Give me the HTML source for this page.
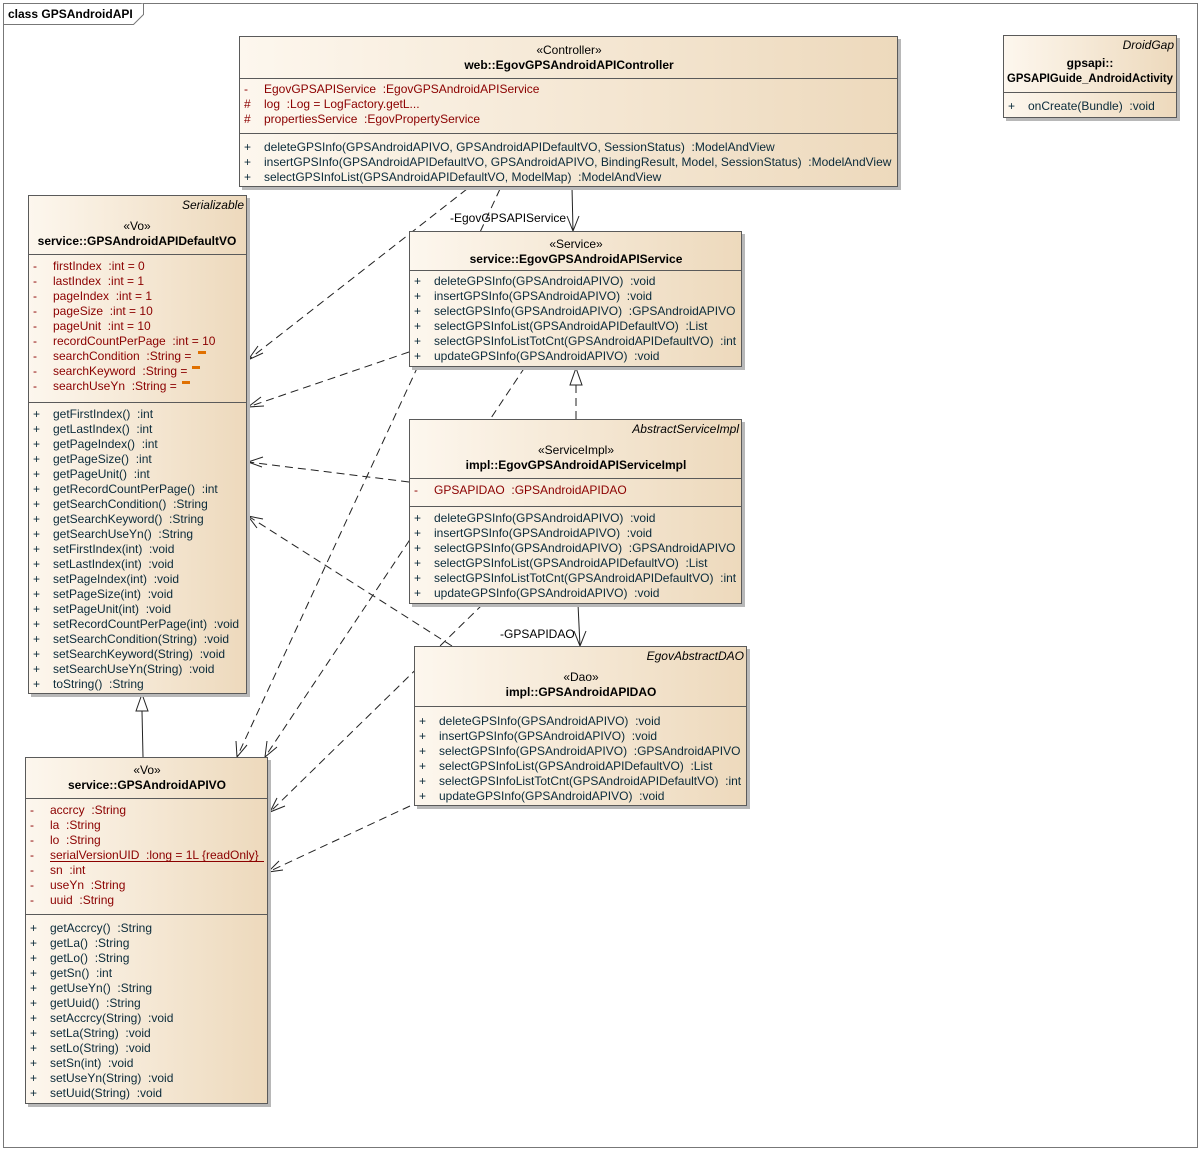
<!DOCTYPE html>
<html><head><meta charset="utf-8"><style>
html,body{margin:0;padding:0;background:#fff;}
svg{display:block;font-family:"Liberation Sans",Arial,sans-serif;font-size:12px;}
text{white-space:pre}
.a{fill:#8b0000}.m{fill:#0a2a3a}.h{fill:#000}
.b{font-weight:bold}.i{font-style:italic}
.box{fill:url(#g);stroke:#5a5a5a;stroke-width:1}
.sh{fill:#b8b8b8}
.sep{stroke:#5a5a5a;stroke-width:1}
.d{stroke:#222;stroke-dasharray:8,5;fill:none}
.s{stroke:#222;fill:none}
</style></head><body>
<svg width="1204" height="1152" viewBox="0 0 1204 1152" xml:space="preserve">
<defs>
<linearGradient id="g" x1="0" y1="0" x2="1" y2="0">
<stop offset="0" stop-color="#fdf7ee"/><stop offset="1" stop-color="#edd9bc"/>
</linearGradient>
</defs>
<rect x="3.5" y="3.5" width="1194" height="1144" fill="#fff" stroke="#777"/>
<path d="M3.5 24.5 H133.5 L143.5 14.5 V3.5" fill="#fff" stroke="#777"/>
<text x="8" y="18" class="b h">class GPSAndroidAPI</text>

<path class="d" d="M467 189 L248 360"/><path class="s" d="M258 346 L248 360 L263 353"/>
<path class="d" d="M500 189 L237 757"/><path class="s" d="M236 741 L237 757 L247 745"/>
<path class="d" d="M409 352 L248 407"/><path class="s" d="M261 397 L248 407 L264 406"/>
<path class="d" d="M525 367 L265 757"/><path class="s" d="M267 741 L265 757 L277 747"/>
<path class="d" d="M409 482 L248 462"/><path class="s" d="M263 457 L248 462 L262 467"/>
<path class="d" d="M483 604 L270 812"/><path class="s" d="M277 798 L270 812 L285 806"/>
<path class="d" d="M452 646 L248 516"/><path class="s" d="M257 528 L248 516 L263 519"/>
<path class="d" d="M410 806 L268 872"/><path class="s" d="M279 861 L268 872 L283 870"/>
<path class="d" d="M576 419 L576 385"/><path d="M570 385 L576 368 L582 385 Z" fill="#fff" stroke="#222"/>
<path class="s" d="M572 187 L573 231"/><path class="s" d="M567 216 L573 231 L579 216"/>
<text x="450" y="222" class="h">-EgovGPSAPIService</text>
<path class="s" d="M578 604 L580 646"/><path class="s" d="M574 631 L580 646 L586 631"/>
<text x="500" y="638" class="h">-GPSAPIDAO</text>
<path class="s" d="M143 757 L142 711"/><path d="M136 711 L142 694 L148 711 Z" fill="#fff" stroke="#222"/>

<rect class="sh" x="242" y="39" width="659" height="151"/>
<rect class="box" x="239.5" y="36.5" width="658" height="150"/>
<text x="569" y="54" text-anchor="middle" class="h">«Controller»</text>
<text x="569" y="69" text-anchor="middle" class="h b">web::EgovGPSAndroidAPIController</text>
<line class="sep" x1="239.5" y1="78.5" x2="897.5" y2="78.5"/>
<text class="a"><tspan x="244" y="93">-</tspan><tspan x="264" y="93">EgovGPSAPIService  :EgovGPSAndroidAPIService</tspan><tspan x="244" y="108">#</tspan><tspan x="264" y="108">log  :Log = LogFactory.getL...</tspan><tspan x="244" y="123">#</tspan><tspan x="264" y="123">propertiesService  :EgovPropertyService</tspan></text>
<line class="sep" x1="239.5" y1="133.5" x2="897.5" y2="133.5"/>
<text class="m"><tspan x="244" y="151">+</tspan><tspan x="264" y="151">deleteGPSInfo(GPSAndroidAPIVO, GPSAndroidAPIDefaultVO, SessionStatus)  :ModelAndView</tspan><tspan x="244" y="166">+</tspan><tspan x="264" y="166">insertGPSInfo(GPSAndroidAPIDefaultVO, GPSAndroidAPIVO, BindingResult, Model, SessionStatus)  :ModelAndView</tspan><tspan x="244" y="181">+</tspan><tspan x="264" y="181">selectGPSInfoList(GPSAndroidAPIDefaultVO, ModelMap)  :ModelAndView</tspan></text>

<rect class="sh" x="1006" y="38" width="174" height="83"/>
<rect class="box" x="1003.5" y="35.5" width="173" height="82"/>
<text x="1174" y="49" text-anchor="end" class="h i">DroidGap</text>
<text x="1090" y="67" text-anchor="middle" class="h b">gpsapi::</text>
<text x="1090" y="82" text-anchor="middle" class="h b" textLength="166" lengthAdjust="spacingAndGlyphs">GPSAPIGuide_AndroidActivity</text>
<line class="sep" x1="1003.5" y1="92.5" x2="1176.5" y2="92.5"/>
<text class="m"><tspan x="1008" y="110">+</tspan><tspan x="1028" y="110">onCreate(Bundle)  :void</tspan></text>

<rect class="sh" x="31" y="198" width="219" height="499"/>
<rect class="box" x="28.5" y="195.5" width="218" height="498"/>
<text x="244" y="209" text-anchor="end" class="h i">Serializable</text>
<text x="137" y="230" text-anchor="middle" class="h">«Vo»</text>
<text x="137" y="245" text-anchor="middle" class="h b">service::GPSAndroidAPIDefaultVO</text>
<line class="sep" x1="28.5" y1="254.5" x2="246.5" y2="254.5"/>
<text class="a"><tspan x="33" y="270">-</tspan><tspan x="53" y="270">firstIndex  :int = 0</tspan><tspan x="33" y="285">-</tspan><tspan x="53" y="285">lastIndex  :int = 1</tspan><tspan x="33" y="300">-</tspan><tspan x="53" y="300">pageIndex  :int = 1</tspan><tspan x="33" y="315">-</tspan><tspan x="53" y="315">pageSize  :int = 10</tspan><tspan x="33" y="330">-</tspan><tspan x="53" y="330">pageUnit  :int = 10</tspan><tspan x="33" y="345">-</tspan><tspan x="53" y="345">recordCountPerPage  :int = 10</tspan><tspan x="33" y="360">-</tspan><tspan x="53" y="360">searchCondition  :String =</tspan><tspan x="33" y="375">-</tspan><tspan x="53" y="375">searchKeyword  :String =</tspan><tspan x="33" y="390">-</tspan><tspan x="53" y="390">searchUseYn  :String =</tspan></text>
<rect x="198" y="351" width="8" height="3" fill="#e07000"/>
<rect x="192" y="366" width="8" height="3" fill="#e07000"/>
<rect x="182" y="381" width="8" height="3" fill="#e07000"/>
<line class="sep" x1="28.5" y1="402.5" x2="246.5" y2="402.5"/>
<text class="m"><tspan x="33" y="418">+</tspan><tspan x="53" y="418">getFirstIndex()  :int</tspan><tspan x="33" y="433">+</tspan><tspan x="53" y="433">getLastIndex()  :int</tspan><tspan x="33" y="448">+</tspan><tspan x="53" y="448">getPageIndex()  :int</tspan><tspan x="33" y="463">+</tspan><tspan x="53" y="463">getPageSize()  :int</tspan><tspan x="33" y="478">+</tspan><tspan x="53" y="478">getPageUnit()  :int</tspan><tspan x="33" y="493">+</tspan><tspan x="53" y="493">getRecordCountPerPage()  :int</tspan><tspan x="33" y="508">+</tspan><tspan x="53" y="508">getSearchCondition()  :String</tspan><tspan x="33" y="523">+</tspan><tspan x="53" y="523">getSearchKeyword()  :String</tspan><tspan x="33" y="538">+</tspan><tspan x="53" y="538">getSearchUseYn()  :String</tspan><tspan x="33" y="553">+</tspan><tspan x="53" y="553">setFirstIndex(int)  :void</tspan><tspan x="33" y="568">+</tspan><tspan x="53" y="568">setLastIndex(int)  :void</tspan><tspan x="33" y="583">+</tspan><tspan x="53" y="583">setPageIndex(int)  :void</tspan><tspan x="33" y="598">+</tspan><tspan x="53" y="598">setPageSize(int)  :void</tspan><tspan x="33" y="613">+</tspan><tspan x="53" y="613">setPageUnit(int)  :void</tspan><tspan x="33" y="628">+</tspan><tspan x="53" y="628">setRecordCountPerPage(int)  :void</tspan><tspan x="33" y="643">+</tspan><tspan x="53" y="643">setSearchCondition(String)  :void</tspan><tspan x="33" y="658">+</tspan><tspan x="53" y="658">setSearchKeyword(String)  :void</tspan><tspan x="33" y="673">+</tspan><tspan x="53" y="673">setSearchUseYn(String)  :void</tspan><tspan x="33" y="688">+</tspan><tspan x="53" y="688">toString()  :String</tspan></text>

<rect class="sh" x="412" y="234" width="333" height="136"/>
<rect class="box" x="409.5" y="231.5" width="332" height="135"/>
<text x="576" y="248" text-anchor="middle" class="h">«Service»</text>
<text x="576" y="263" text-anchor="middle" class="h b">service::EgovGPSAndroidAPIService</text>
<line class="sep" x1="409.5" y1="270.5" x2="741.5" y2="270.5"/>
<text class="m"><tspan x="414" y="285">+</tspan><tspan x="434" y="285">deleteGPSInfo(GPSAndroidAPIVO)  :void</tspan><tspan x="414" y="300">+</tspan><tspan x="434" y="300">insertGPSInfo(GPSAndroidAPIVO)  :void</tspan><tspan x="414" y="315">+</tspan><tspan x="434" y="315">selectGPSInfo(GPSAndroidAPIVO)  :GPSAndroidAPIVO</tspan><tspan x="414" y="330">+</tspan><tspan x="434" y="330">selectGPSInfoList(GPSAndroidAPIDefaultVO)  :List</tspan><tspan x="414" y="345">+</tspan><tspan x="434" y="345">selectGPSInfoListTotCnt(GPSAndroidAPIDefaultVO)  :int</tspan><tspan x="414" y="360">+</tspan><tspan x="434" y="360">updateGPSInfo(GPSAndroidAPIVO)  :void</tspan></text>

<rect class="sh" x="412" y="422" width="333" height="185"/>
<rect class="box" x="409.5" y="419.5" width="332" height="184"/>
<text x="739" y="433" text-anchor="end" class="h i">AbstractServiceImpl</text>
<text x="576" y="454" text-anchor="middle" class="h">«ServiceImpl»</text>
<text x="576" y="469" text-anchor="middle" class="h b">impl::EgovGPSAndroidAPIServiceImpl</text>
<line class="sep" x1="409.5" y1="478.5" x2="741.5" y2="478.5"/>
<text class="a"><tspan x="414" y="494">-</tspan><tspan x="434" y="494">GPSAPIDAO  :GPSAndroidAPIDAO</tspan></text>
<line class="sep" x1="409.5" y1="506.5" x2="741.5" y2="506.5"/>
<text class="m"><tspan x="414" y="522">+</tspan><tspan x="434" y="522">deleteGPSInfo(GPSAndroidAPIVO)  :void</tspan><tspan x="414" y="537">+</tspan><tspan x="434" y="537">insertGPSInfo(GPSAndroidAPIVO)  :void</tspan><tspan x="414" y="552">+</tspan><tspan x="434" y="552">selectGPSInfo(GPSAndroidAPIVO)  :GPSAndroidAPIVO</tspan><tspan x="414" y="567">+</tspan><tspan x="434" y="567">selectGPSInfoList(GPSAndroidAPIDefaultVO)  :List</tspan><tspan x="414" y="582">+</tspan><tspan x="434" y="582">selectGPSInfoListTotCnt(GPSAndroidAPIDefaultVO)  :int</tspan><tspan x="414" y="597">+</tspan><tspan x="434" y="597">updateGPSInfo(GPSAndroidAPIVO)  :void</tspan></text>

<rect class="sh" x="417" y="649" width="333" height="160"/>
<rect class="box" x="414.5" y="646.5" width="332" height="159"/>
<text x="744" y="660" text-anchor="end" class="h i">EgovAbstractDAO</text>
<text x="581" y="681" text-anchor="middle" class="h">«Dao»</text>
<text x="581" y="696" text-anchor="middle" class="h b">impl::GPSAndroidAPIDAO</text>
<line class="sep" x1="414.5" y1="706.5" x2="746.5" y2="706.5"/>
<text class="m"><tspan x="419" y="725">+</tspan><tspan x="439" y="725">deleteGPSInfo(GPSAndroidAPIVO)  :void</tspan><tspan x="419" y="740">+</tspan><tspan x="439" y="740">insertGPSInfo(GPSAndroidAPIVO)  :void</tspan><tspan x="419" y="755">+</tspan><tspan x="439" y="755">selectGPSInfo(GPSAndroidAPIVO)  :GPSAndroidAPIVO</tspan><tspan x="419" y="770">+</tspan><tspan x="439" y="770">selectGPSInfoList(GPSAndroidAPIDefaultVO)  :List</tspan><tspan x="419" y="785">+</tspan><tspan x="439" y="785">selectGPSInfoListTotCnt(GPSAndroidAPIDefaultVO)  :int</tspan><tspan x="419" y="800">+</tspan><tspan x="439" y="800">updateGPSInfo(GPSAndroidAPIVO)  :void</tspan></text>

<rect class="sh" x="28" y="760" width="243" height="347"/>
<rect class="box" x="25.5" y="757.5" width="242" height="346"/>
<text x="147" y="774" text-anchor="middle" class="h">«Vo»</text>
<text x="147" y="789" text-anchor="middle" class="h b">service::GPSAndroidAPIVO</text>
<line class="sep" x1="25.5" y1="798.5" x2="267.5" y2="798.5"/>
<text class="a"><tspan x="30" y="814">-</tspan><tspan x="50" y="814">accrcy  :String</tspan><tspan x="30" y="829">-</tspan><tspan x="50" y="829">la  :String</tspan><tspan x="30" y="844">-</tspan><tspan x="50" y="844">lo  :String</tspan><tspan x="30" y="859">-</tspan><tspan x="50" y="859">serialVersionUID  :long = 1L {readOnly}</tspan><tspan x="30" y="874">-</tspan><tspan x="50" y="874">sn  :int</tspan><tspan x="30" y="889">-</tspan><tspan x="50" y="889">useYn  :String</tspan><tspan x="30" y="904">-</tspan><tspan x="50" y="904">uuid  :String</tspan></text>
<line x1="50" y1="861.5" x2="264" y2="861.5" stroke="#8b0000"/>
<line class="sep" x1="25.5" y1="914.5" x2="267.5" y2="914.5"/>
<text class="m"><tspan x="30" y="932">+</tspan><tspan x="50" y="932">getAccrcy()  :String</tspan><tspan x="30" y="947">+</tspan><tspan x="50" y="947">getLa()  :String</tspan><tspan x="30" y="962">+</tspan><tspan x="50" y="962">getLo()  :String</tspan><tspan x="30" y="977">+</tspan><tspan x="50" y="977">getSn()  :int</tspan><tspan x="30" y="992">+</tspan><tspan x="50" y="992">getUseYn()  :String</tspan><tspan x="30" y="1007">+</tspan><tspan x="50" y="1007">getUuid()  :String</tspan><tspan x="30" y="1022">+</tspan><tspan x="50" y="1022">setAccrcy(String)  :void</tspan><tspan x="30" y="1037">+</tspan><tspan x="50" y="1037">setLa(String)  :void</tspan><tspan x="30" y="1052">+</tspan><tspan x="50" y="1052">setLo(String)  :void</tspan><tspan x="30" y="1067">+</tspan><tspan x="50" y="1067">setSn(int)  :void</tspan><tspan x="30" y="1082">+</tspan><tspan x="50" y="1082">setUseYn(String)  :void</tspan><tspan x="30" y="1097">+</tspan><tspan x="50" y="1097">setUuid(String)  :void</tspan></text>
</svg>
</body></html>
